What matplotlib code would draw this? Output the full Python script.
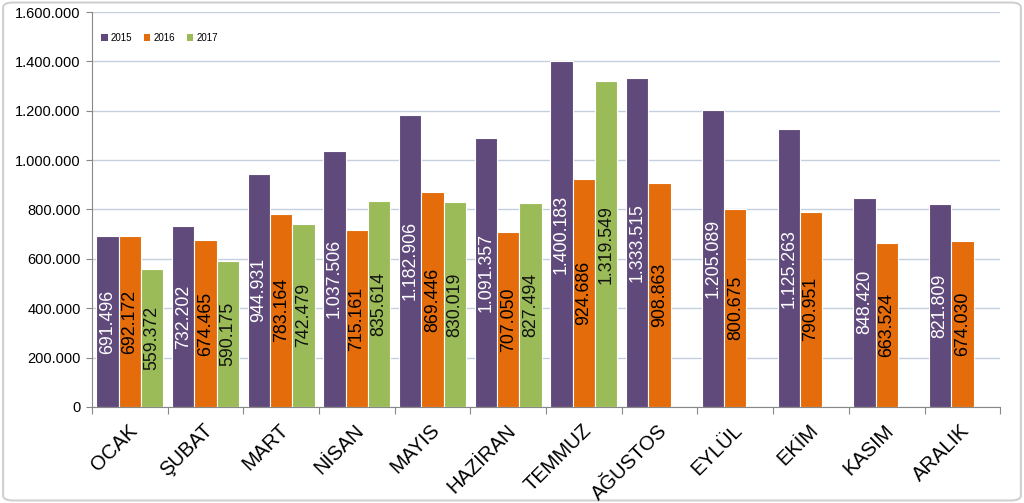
import matplotlib
matplotlib.use("Agg")
import matplotlib.pyplot as plt
from matplotlib.patches import FancyBboxPatch, Patch
from matplotlib.ticker import FuncFormatter, FixedLocator
import numpy as np

plt.rcParams['font.family'] = ['Liberation Sans', 'DejaVu Sans']

months = ["OCAK", "ŞUBAT", "MART", "NİSAN", "MAYIS", "HAZİRAN", "TEMMUZ",
          "AĞUSTOS", "EYLÜL", "EKİM", "KASIM", "ARALIK"]
v2015 = [691496, 732202, 944931, 1037506, 1182906, 1091357, 1400183,
         1333515, 1205089, 1125263, 848420, 821809]
v2016 = [692172, 674465, 783164, 715161, 869446, 707050, 924686,
         908863, 800675, 790951, 663524, 674030]
v2017 = [559372, 590175, 742479, 835614, 830019, 827494, 1319549]
years = ["2015", "2016", "2017"]

colors = ["#604a7b", "#e46c0a", "#9bbb59"]
label_colors = ["white", "black", "#111111"]

def fmt(v):
    return f"{int(v):,}".replace(",", ".")

fig = plt.figure(figsize=(10.24, 5.03), dpi=100)
fig.patches.append(FancyBboxPatch((0.003, 0.005), 0.994, 0.99, boxstyle="round,pad=0,rounding_size=0.01",
                                  transform=fig.transFigure, facecolor="white",
                                  edgecolor="#d0d0d0", linewidth=1.5, zorder=-10))
ax = fig.add_axes([0.0898, 0.191, 0.887, 0.785])
ax.set_facecolor("none")

w = 0.295
series = [v2015, v2016, v2017]
x = np.arange(len(months))
for j, vals in enumerate(series):
    xs = x[:len(vals)] + (j - 1) * w
    bars = ax.bar(xs, vals, width=w, color=colors[j], edgecolor="white", linewidth=0.8,
                  zorder=3, label=years[j])
    for b, v in zip(bars, vals):
        ax.text(b.get_x() + b.get_width() / 2, v / 2, fmt(v), rotation=90,
                ha="center", va="center", fontsize=12.8, color=label_colors[j], zorder=4)

ax.set_xlim(-0.5, len(months) - 0.5)
ax.set_ylim(0, 1600000)
ax.set_yticks(np.arange(0, 1600001, 200000))
ax.yaxis.set_major_formatter(FuncFormatter(lambda v, p: fmt(v)))
ax.tick_params(axis="y", labelsize=10.5, length=4, color="#888888", pad=4, labelcolor="black")
ax.grid(axis="y", color="#c5d0de", linewidth=1, zorder=0)
ax.set_axisbelow(True)

ax.xaxis.set_major_locator(FixedLocator(np.arange(-0.5, len(months), 1.0)))
ax.xaxis.set_major_formatter(FuncFormatter(lambda v, p: ""))
ax.tick_params(axis="x", length=5, color="#888888")
for i, m in enumerate(months):
    ax.text(i - 0.03, -0.035, m, transform=ax.get_xaxis_transform(), rotation=45,
            rotation_mode="anchor", ha="right", va="top", fontsize=14.5, color="black")

for s in ["top", "right"]:
    ax.spines[s].set_visible(False)
ax.spines["left"].set_color("#888888")
ax.spines["bottom"].set_color("#888888")

handles = [Patch(facecolor=c, edgecolor="none") for c in colors]
ax.legend(handles, years, loc="upper left", bbox_to_anchor=(0.0, 0.97), ncol=3,
          frameon=False, fontsize=7, handlelength=0.7, handleheight=0.7,
          handletextpad=0.3, columnspacing=1.2)

fig.savefig("out.png", dpi=100)
